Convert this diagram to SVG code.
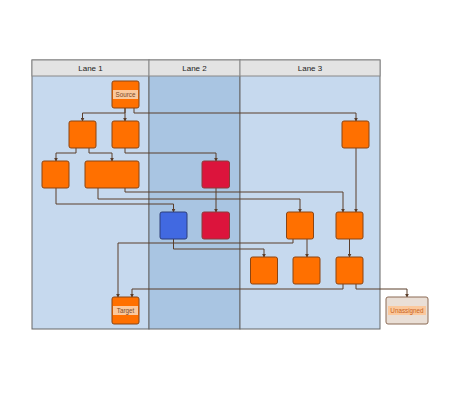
<svg xmlns="http://www.w3.org/2000/svg" width="460" height="400" viewBox="0 0 460 400">
<defs>
<marker id="ah" viewBox="0 0 6 6" refX="5" refY="3" markerWidth="4" markerHeight="4" orient="auto" markerUnits="userSpaceOnUse">
<path d="M0,0 L6,3 L0,6 z" fill="#5a3e2b"/>
</marker>
<style>
.lane{stroke:#666;stroke-width:1}
.hdr{fill:#e3e3e3;stroke:#888;stroke-width:1}
.ht{font-family:"Liberation Sans",Arial,sans-serif;font-size:8px;fill:#222;text-anchor:middle}
.n{fill:#ff7000;stroke:#8b4513;stroke-width:1}
.r{fill:#dc143c;stroke:#8b3a3a;stroke-width:1}
.b{fill:#4169e1;stroke:#2c3e7a;stroke-width:1}
.u{fill:#eadfd6;stroke:#8b6a55;stroke-width:1}
.lb{fill:#fbc89c}
.lt{font-family:"Liberation Sans",Arial,sans-serif;font-size:6.3px;fill:#7a4a2a;text-anchor:middle}
.ut{font-family:"Liberation Sans",Arial,sans-serif;font-size:6.3px;fill:#c8641e;text-anchor:middle}
.e{fill:none;stroke:#5a3e2b;stroke-width:1;marker-end:url(#ah)}
</style>
</defs>
<rect width="460" height="400" fill="#ffffff"/>
<g id="pool">
<rect x="32" y="60" width="117" height="269" fill="#c6d9ee" class="lane"/>
<rect x="149" y="60" width="91" height="269" fill="#a9c5e2" class="lane"/>
<rect x="240" y="60" width="140" height="269" fill="#c6d9ee" class="lane"/>
<rect x="32" y="60" width="117" height="16" class="hdr"/>
<rect x="149" y="60" width="91" height="16" class="hdr"/>
<rect x="240" y="60" width="140" height="16" class="hdr"/>
<text x="90.5" y="71" class="ht">Lane 1</text>
<text x="194.5" y="71" class="ht">Lane 2</text>
<text x="310" y="71" class="ht">Lane 3</text>
</g>
<g id="connectors">
<path class="e" d="M125,108 V113 H82.5 V121"/>
<path class="e" d="M125,108 V121"/>
<path class="e" d="M134,108 V113 H356 V121"/>
<path class="e" d="M76,148 V153 H56 V161"/>
<path class="e" d="M89,148 V153 H112 V161"/>
<path class="e" d="M125,148 V153 H216 V161"/>
<path class="e" d="M56,188 V204 H173.5 V212"/>
<path class="e" d="M98,188 V199 H300 V212"/>
<path class="e" d="M125,188 V192 H343 V212"/>
<path class="e" d="M216,188 V212"/>
<path class="e" d="M356,148 V212"/>
<path class="e" d="M173.5,239 V249 H264 V257"/>
<path class="e" d="M307,239 V257"/>
<path class="e" d="M293,239 V243 H118 V297"/>
<path class="e" d="M349.5,239 V257"/>
<path class="e" d="M343,284 V289 H132 V297"/>
<path class="e" d="M356,284 V289 H407 V297"/>
</g>
<g id="source"><rect x="112" y="81" width="27" height="27" rx="2" class="n"/><rect x="113" y="90" width="25" height="9" class="lb"/><text x="125.5" y="96.8" class="lt">Source</text></g>
<g id="nA"><rect x="69" y="121" width="27" height="27" rx="2" class="n"/></g>
<g id="nB"><rect x="112" y="121" width="27" height="27" rx="2" class="n"/></g>
<g id="nL3"><rect x="342" y="121" width="27" height="27" rx="2" class="n"/></g>
<g id="nC"><rect x="42" y="161" width="27" height="27" rx="2" class="n"/></g>
<g id="nD"><rect x="85" y="161" width="54" height="27" rx="2" class="n"/></g>
<g id="red1"><rect x="202" y="161" width="27.5" height="27" rx="2" class="r"/></g>
<g id="blue"><rect x="160" y="212" width="27" height="27" rx="2" class="b"/></g>
<g id="red2"><rect x="202" y="212" width="27.5" height="27" rx="2" class="r"/></g>
<g id="nE"><rect x="286.5" y="212" width="27" height="27" rx="2" class="n"/></g>
<g id="nF"><rect x="336" y="212" width="27" height="27" rx="2" class="n"/></g>
<g id="nG"><rect x="250.5" y="257" width="27" height="27" rx="2" class="n"/></g>
<g id="nH"><rect x="293" y="257" width="27" height="27" rx="2" class="n"/></g>
<g id="nI"><rect x="336" y="257" width="27" height="27" rx="2" class="n"/></g>
<g id="target"><rect x="112" y="297" width="27" height="27" rx="2" class="n"/><rect x="113" y="306" width="25" height="9" class="lb"/><text x="125.5" y="312.8" class="lt">Target</text></g>
<g id="unassigned"><rect x="386" y="297" width="42" height="27" rx="2" class="u"/><rect x="388" y="306" width="38" height="9" class="lb"/><text x="407" y="312.8" class="ut">Unassigned</text></g>
</svg>
